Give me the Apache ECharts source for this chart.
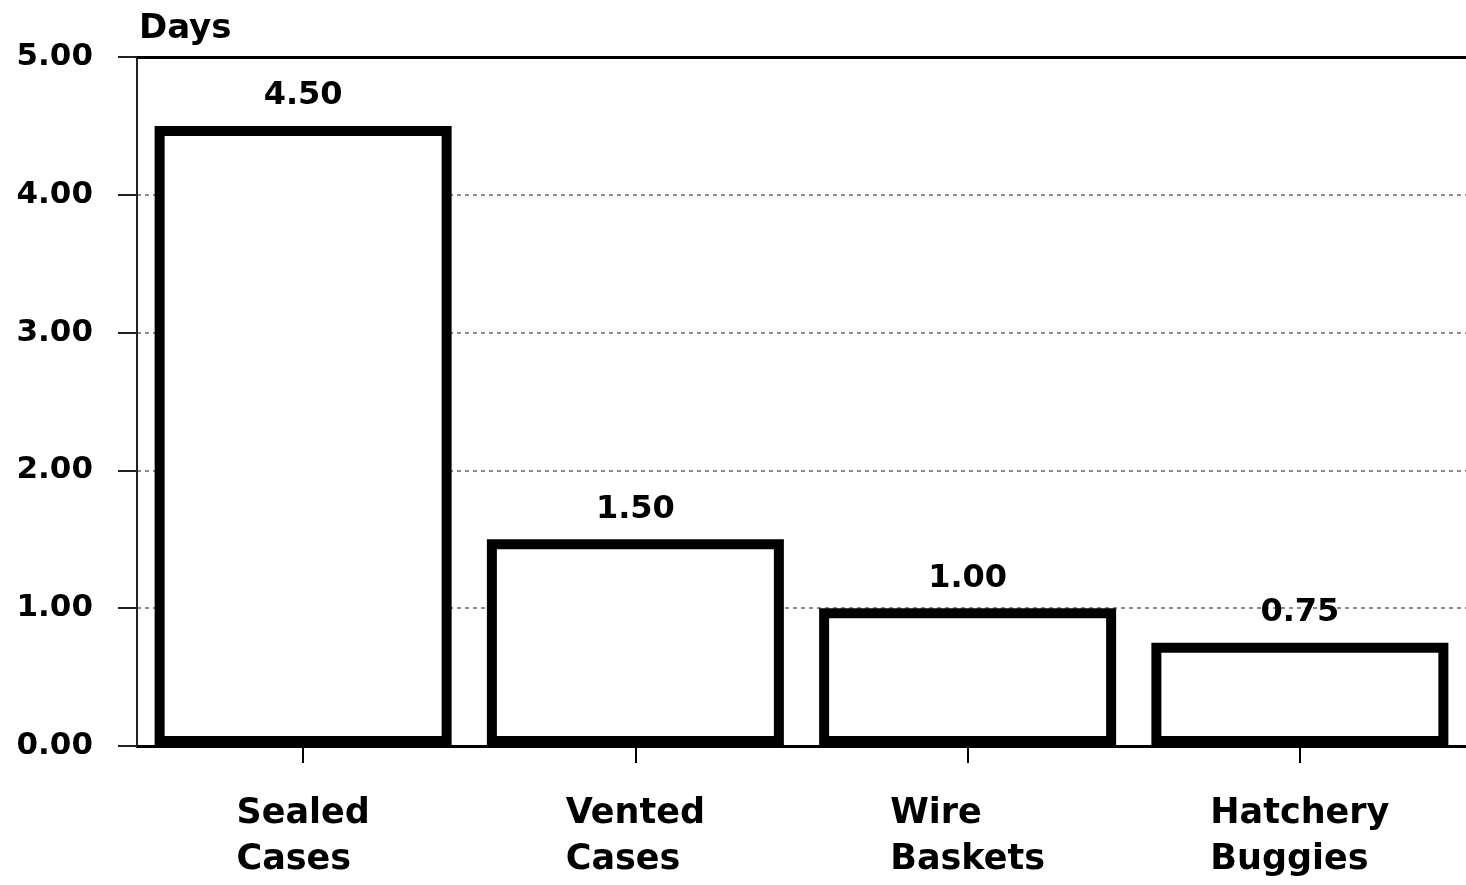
<!DOCTYPE html>
<html>
<head>
<meta charset="utf-8">
<script src="https://cdn.jsdelivr.net/npm/echarts@6/dist/echarts.min.js"></script>
<style>
html,body{margin:0;padding:0;background:#fff;}
#chart{width:1466px;height:885px;}
</style>
</head>
<body>
<div id="chart"></div>
<script>
const categories = ['Sealed\nCases', 'Vented\nCases', 'Wire\nBaskets', 'Hatchery\nBuggies'];
const values = [4.50, 1.50, 1.00, 0.75];
const yAxisName = 'Days';
const yMin = 0, yMax = 5, yInterval = 1;

const FONT = '"DejaVu Sans", sans-serif';
const chart = echarts.init(document.getElementById('chart'), null, {renderer: 'canvas'});
chart.setOption({
  animation: false,
  backgroundColor: '#ffffff',
  grid: {left: 137, right: -6, top: 57, bottom: 139, containLabel: false},
  xAxis: [{
    type: 'category',
    data: categories,
    position: 'bottom',
    axisLine: {show: true, lineStyle: {color: '#000', width: 3}},
    axisTick: {show: true, alignWithLabel: true, length: 17, lineStyle: {color: '#000', width: 2}},
    axisLabel: {
      margin: 45,
      formatter: v => v.split('\n').map(s => '{a|' + s + '}').join('\n'),
      rich: {a: {fontFamily: FONT, fontWeight: 'bold', fontSize: 35, color: '#000', lineHeight: 46, align: 'left'}}
    },
    splitLine: {show: false}
  }, {
    type: 'category',
    data: categories,
    position: 'top',
    axisLine: {show: true, lineStyle: {color: '#000', width: 3}},
    axisTick: {show: false},
    axisLabel: {show: false},
    splitLine: {show: false}
  }],
  yAxis: {
    type: 'value',
    min: yMin, max: yMax, interval: yInterval,
    name: yAxisName,
    nameLocation: 'end',
    nameGap: 28,
    nameTextStyle: {fontFamily: FONT, fontWeight: 'bold', fontSize: 34, color: '#000', align: 'left', verticalAlign: 'middle', padding: [0, 0, 0, 2]},
    axisLine: {show: true, lineStyle: {color: '#222', width: 2}},
    axisTick: {show: true, length: 19, lineStyle: {color: '#222', width: 2}},
    axisLabel: {
      margin: 44,
      fontFamily: FONT, fontWeight: 'bold', fontSize: 31, color: '#000',
      formatter: v => v.toFixed(2)
    },
    splitLine: {show: true, lineStyle: {color: '#666', width: 1.5, type: [4, 4]}}
  },
  series: [{
    type: 'bar',
    xAxisIndex: 0,
    data: values,
    barWidth: 297,
    itemStyle: {color: '#ffffff', borderColor: '#000', borderWidth: 10},
    label: {
      show: true, position: 'top', distance: 14,
      fontFamily: FONT, fontWeight: 'bold', fontSize: 32, color: '#000',
      formatter: p => p.value.toFixed(2)
    }
  }]
});
</script>
</body>
</html>
